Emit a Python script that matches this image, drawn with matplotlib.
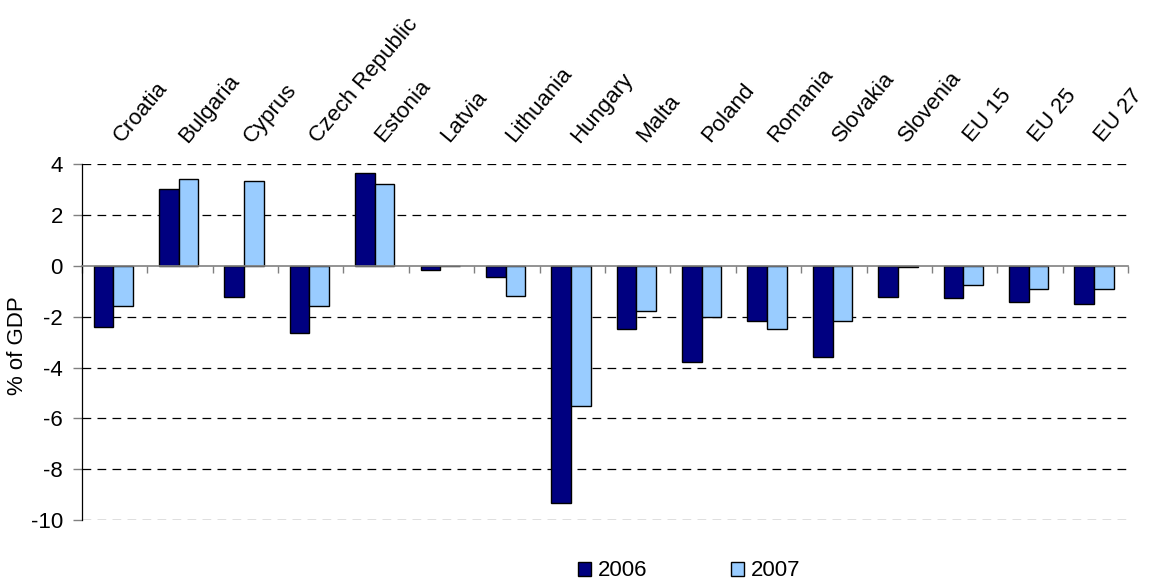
import matplotlib
matplotlib.use("Agg")
import matplotlib.pyplot as plt
import matplotlib.transforms as mtransforms
import numpy as np

plt.rcParams['font.family'] = ['Liberation Sans', 'DejaVu Sans']

categories = ["Croatia", "Bulgaria", "Cyprus", "Czech Republic", "Estonia", "Latvia",
              "Lithuania", "Hungary", "Malta", "Poland", "Romania", "Slovakia",
              "Slovenia", "EU 15", "EU 25", "EU 27"]
values_2006 = [-2.39, 3.04, -1.21, -2.62, 3.66, -0.17, -0.45, -9.32, -2.47, -3.79,
               -2.17, -3.60, -1.21, -1.27, -1.43, -1.50]
values_2007 = [-1.56, 3.42, 3.35, -1.56, 3.21, 0.0, -1.18, -5.51, -1.78, -2.02,
               -2.47, -2.15, -0.06, -0.75, -0.89, -0.89]
series_labels = ["2006", "2007"]
yticks = [-10, -8, -6, -4, -2, 0, 2, 4]

color_2006 = "#000080"
color_2007 = "#99CCFF"
FS = 16

fig = plt.figure(figsize=(11.53, 5.82), dpi=100)
ax = fig.add_axes([0.0709, 0.1065, 0.9075, 0.6112])

x = np.arange(len(categories))
w = 0.30
ax.bar(x - w / 2 - 0.02, values_2006, width=w, color=color_2006, edgecolor="black",
       linewidth=1.0, label=series_labels[0], zorder=3)
ax.bar(x + w / 2 - 0.02, values_2007, width=w, color=color_2007, edgecolor="black",
       linewidth=1.0, label=series_labels[1], zorder=3)

ax.set_xlim(-0.5, len(categories) - 0.5)
ax.set_ylim(-10, 4)
ax.set_yticks(yticks)
ax.set_yticklabels([str(t) for t in yticks], fontsize=FS)

# dashed horizontal gridlines (the zero line is the category axis)
for t in yticks:
    if t != 0:
        ax.axhline(t, color="black", linewidth=0.9, linestyle=(0, (7, 5)), zorder=1)

ax.spines['top'].set_visible(False)
ax.spines['right'].set_visible(False)
ax.spines['left'].set_color("black")
ax.spines['left'].set_linewidth(0.9)
ax.spines['bottom'].set_position(('data', 0))
ax.spines['bottom'].set_color("#808080")
ax.spines['bottom'].set_linewidth(1.2)
ax.spines['bottom'].set_zorder(4)

ax.set_xticks(np.arange(len(categories) + 1) - 0.5)
ax.set_xticklabels([])
ax.tick_params(axis='x', direction='out', length=5, color="#808080", width=1.0)
ax.tick_params(axis='y', direction='out', length=6.5, color="#808080", width=1.0, pad=7)

ax.set_ylabel("% of GDP", fontsize=FS)
ax.yaxis.set_label_coords(-0.051, 0.49)

# rotated category labels above the plot area
trans = mtransforms.blended_transform_factory(ax.transData, ax.transAxes)
for i, name in enumerate(categories):
    ax.text(i + 0.17, 1.05, name, transform=trans, rotation=50, rotation_mode='anchor',
            ha='left', va='bottom', fontsize=FS)

fig.legend(loc='center', bbox_to_anchor=(0.5975, 0.019), ncol=2, frameon=False,
           fontsize=FS, handlelength=0.6, handleheight=0.6, handletextpad=0.3,
           columnspacing=3.75, borderpad=0.1)

fig.savefig("out.png", dpi=100)
